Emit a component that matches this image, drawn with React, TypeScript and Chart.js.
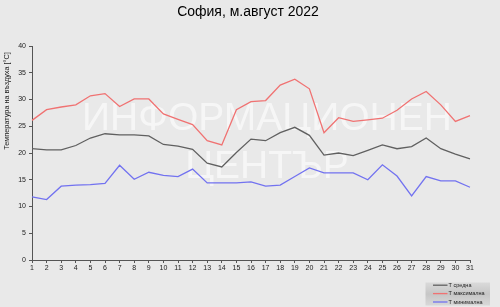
import { useEffect, useRef } from "react";
import { Chart, registerables } from "chart.js";

Chart.register(...registerables);

const days = ["1","2","3","4","5","6","7","8","9","10","11","12","13","14","15","16","17","18","19","20","21","22","23","24","25","26","27","28","29","30","31"];
const tAvg = [20.8,20.6,20.6,21.4,22.8,23.6,23.4,23.4,23.2,21.6,21.3,20.7,18.1,17.4,20.1,22.6,22.3,23.8,24.8,23.3,19.6,20.0,19.5,20.5,21.5,20.8,21.2,22.8,20.8,19.8,18.9];
const tMax = [26.1,28.1,28.6,29.0,30.7,31.1,28.7,30.1,30.1,27.3,26.3,25.3,22.3,21.5,28.1,29.6,29.8,32.7,33.8,32.0,23.8,26.6,25.9,26.2,26.5,28.0,30.1,31.5,29.0,25.9,27.0];
const tMin = [11.8,11.3,13.8,14.0,14.1,14.3,17.7,15.1,16.4,15.8,15.6,17.0,14.4,14.4,14.4,14.6,13.8,14.0,15.6,17.2,16.3,16.3,16.3,15.0,17.8,15.7,12.0,15.6,14.8,14.8,13.6];
const seriesNames = ["Т средна", "Т максимална", "Т минимална"];
const seriesColors = ["#606060", "#f07272", "#7272f0"];
const titleText = "София, м.август 2022";
const yTitle = "Температура на въздуха [°C]";
const watermark = ["ИНФОРМАЦИОНЕН", "ЦЕНТЪР"];

const FONT = '"Liberation Sans", Arial, sans-serif';

const decor = {
  id: "decor",
  beforeDraw(chart: any) {
    const ctx = chart.ctx;
    ctx.save();
    ctx.fillStyle = "#e9e9e9";
    ctx.fillRect(0, 0, chart.width, chart.height);
    ctx.restore();
  },
  beforeDatasetsDraw(chart: any) {
    const ctx = chart.ctx;
    ctx.save();
    ctx.fillStyle = "rgba(255,255,255,0.6)";
    ctx.font = `39px ${FONT}`;
    ctx.textAlign = "center";
    ctx.textBaseline = "alphabetic";
    ctx.fillText(watermark[0], 267, 130);
    ctx.fillText(watermark[1], 267, 178);
    ctx.restore();
  },
  afterDraw(chart: any) {
    const ctx = chart.ctx;
    // chart title
    ctx.save();
    ctx.fillStyle = "#000";
    ctx.font = `14px ${FONT}`;
    ctx.textAlign = "center";
    ctx.textBaseline = "middle";
    ctx.fillText(titleText, 248, 12);
    ctx.restore();

    // y axis title
    ctx.save();
    ctx.translate(7, 101);
    ctx.rotate(-Math.PI / 2);
    ctx.fillStyle = "#222";
    ctx.font = `7.3px ${FONT}`;
    ctx.textAlign = "center";
    ctx.textBaseline = "middle";
    ctx.fillText(yTitle, 0, 0);
    ctx.restore();

    // legend
    ctx.save();
    const bx = 425.5, by = 282.5, bw = 64.5, bh = 23;
    const g = ctx.createLinearGradient(0, by, 0, by + bh);
    g.addColorStop(0, "#dadada");
    g.addColorStop(0.5, "#c6c6c6");
    g.addColorStop(1, "#d8d8d8");
    ctx.fillStyle = g;
    ctx.fillRect(bx, by, bw, bh);
    const rows = [285.2, 293.6, 302];
    chart.data.datasets.forEach((ds: any, i: number) => {
      ctx.strokeStyle = ds.borderColor;
      ctx.lineWidth = 1.3;
      ctx.beginPath();
      ctx.moveTo(433, rows[i]);
      ctx.lineTo(447.5, rows[i]);
      ctx.stroke();
      ctx.fillStyle = "#222";
      ctx.font = `5.5px ${FONT}`;
      ctx.textAlign = "left";
      ctx.textBaseline = "middle";
      ctx.fillText(ds.label, 448.5, rows[i]);
    });
    ctx.restore();
  },
};

export default function App() {
  const ref = useRef<HTMLCanvasElement>(null);
  useEffect(() => {
    if (!ref.current) return;
    const chart = new Chart(ref.current, {
      type: "line",
      data: {
        labels: days,
        datasets: [
          { label: seriesNames[0], data: tAvg, borderColor: seriesColors[0], backgroundColor: seriesColors[0], borderWidth: 1.3, pointRadius: 0, tension: 0 },
          { label: seriesNames[1], data: tMax, borderColor: seriesColors[1], backgroundColor: seriesColors[1], borderWidth: 1.3, pointRadius: 0, tension: 0 },
          { label: seriesNames[2], data: tMin, borderColor: seriesColors[2], backgroundColor: seriesColors[2], borderWidth: 1.3, pointRadius: 0, tension: 0 },
        ],
      },
      options: {
        responsive: false,
        animation: false,
        devicePixelRatio: 1,
        layout: { padding: { left: 0, right: 30, top: 46, bottom: 0 } },
        plugins: {
          legend: { display: false },
          tooltip: { enabled: false },
          title: { display: false },
        },
        scales: {
          x: {
            type: "category",
            offset: false,
            grid: { display: true, drawOnChartArea: false, drawTicks: true, tickLength: 3, color: "#555" },
            border: { display: true, color: "#555", width: 1 },
            ticks: { color: "#222", font: { family: FONT, size: 7 }, padding: 1, maxRotation: 0, autoSkip: false },
            afterFit: (s: any) => { s.height = 47; },
          },
          y: {
            min: 0,
            max: 40,
            grid: { display: true, drawOnChartArea: false, drawTicks: true, tickLength: 3, color: "#555" },
            border: { display: true, color: "#555", width: 1 },
            ticks: { stepSize: 5, color: "#222", font: { family: FONT, size: 7 }, padding: 3 },
            afterFit: (s: any) => { s.width = 32; },
          },
        },
      },
      plugins: [decor],
    });
    return () => chart.destroy();
  }, []);
  return (
    <div style={{ position: "fixed", left: 0, top: 0, width: 500, height: 307 }}>
      <canvas ref={ref} width={500} height={307} style={{ display: "block", width: 500, height: 307 }} />
    </div>
  );
}
